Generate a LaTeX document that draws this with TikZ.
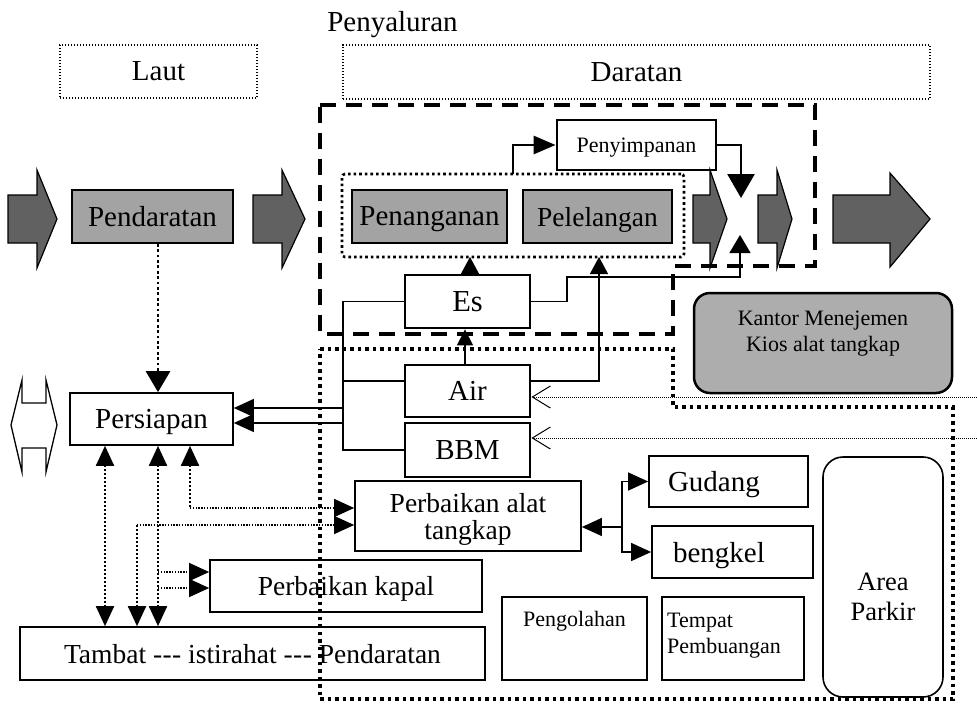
\documentclass[tikz,border=0pt]{standalone}
\usepackage{fontspec}
\setmainfont{Liberation Serif}
\usetikzlibrary{arrows.meta}
\newcommand\fbig{\fontsize{29}{27}\selectfont}
\newcommand\fmid{\fontsize{27.5}{27}\selectfont}
\newcommand\fsml{\fontsize{22}{26}\selectfont}
\newcommand\blkarrow[5]{%
  \draw[blk] (#1,195) -- (#2,195) -- (#2,#4) -- (#3,219) -- (#2,#5) -- (#2,243) -- (#1,243) -- cycle;}
\begin{document}
\begin{tikzpicture}[x=1pt,y=-1pt,
  >={Triangle[length=20pt,width=18pt]},
  bx/.style={draw,line width=1.7pt,inner sep=0pt,align=center,font=\fbig,text depth=0pt},
  heavy/.style={line width=2.8pt},
  gry/.style={fill=black!36},
  dotbox/.style={draw,line width=1.3pt,dash pattern=on 1.3pt off 1.7pt,inner sep=0pt,font=\fbig,text depth=0pt},
  blk/.style={draw,line width=1.2pt,fill=black!62,line join=miter},
  conn/.style={line width=1.3pt},
  dthick/.style={line width=2.8pt,dash pattern=on 2.8pt off 2.6pt},
  dmed/.style={line width=2pt,dash pattern=on 2pt off 2pt},
  dthin/.style={line width=1.3pt,dash pattern=on 1.3pt off 1.5pt},
  plain/.style={inner sep=0pt,align=center}
]
\useasboundingbox (0,0) rectangle (977,706);

% titles
\node[plain,font=\fbig] (peny) at (392.5,25) {Penyaluran};
\node[dotbox,minimum width=197pt,minimum height=53pt] (laut) at (158.5,71.5) {Laut};
\node[dotbox,minimum width=587pt,minimum height=54pt] (darat) at (636.5,72) {Daratan};

% zone outlines
\draw[line width=3.5pt,dash pattern=on 16pt off 10pt]
  (320,105) -- (815,105) -- (815,266) -- (673,266) -- (673,334) -- (320,334) -- cycle;
\draw[line width=3.5pt,dash pattern=on 3.5pt off 4pt]
  (320,349) -- (673,349) -- (673,407) -- (953,407) -- (953,699) -- (320,699) -- cycle;

% group around Penanganan / Pelelangan
\node[draw,line width=2.6pt,dash pattern=on 2.6pt off 3pt,rounded corners=3pt,
  minimum width=342pt,minimum height=83pt,inner sep=0pt] (grp) at (513,215.5) {};

% block arrows
\blkarrow{8}{37}{57}{170}{268}
\blkarrow{253}{282}{305}{170}{268}
\blkarrow{693}{710}{727}{170}{268}
\blkarrow{758}{777}{792}{170}{268}
\blkarrow{833}{890}{930}{173}{267}

% grey boxes
\node[bx,gry,minimum width=161pt,minimum height=53pt] (pend) at (152.5,216.5) {Pendaratan};
\node[bx,gry,minimum width=155pt,minimum height=53pt] (penang) at (429.5,216.5) {Penanganan};
\node[bx,gry,minimum width=149pt,minimum height=53pt,font=\fmid] (pelel) at (597.5,216.5) {Pelelangan};

% storage
\node[bx,heavy,font=\fsml,minimum width=159pt,minimum height=50pt] (penyim) at (636.5,145) {Penyimpanan};

% supply boxes
\node[bx,heavy,font=\fontsize{30.5}{30}\selectfont,minimum width=125pt,minimum height=53pt] (es) at (467.5,301.5) {Es};
\node[bx,heavy,minimum width=125pt,minimum height=52pt] (air) at (467.5,391) {Air};
\node[bx,heavy,minimum width=125pt,minimum height=54pt] (bbm) at (467.5,450) {BBM};

% left side
\node[bx,minimum width=163pt,minimum height=52pt] (pers) at (151.5,419) {Persiapan};
\node[bx,font=\fmid,minimum width=226pt,minimum height=70pt] (pat) at (468,516) {Perbaikan alat\\tangkap};
\node[bx,font=\fmid,minimum width=272pt,minimum height=52pt] (pk) at (346,586) {Perbaikan kapal};
\node[bx,font=\fmid,minimum width=465pt,minimum height=53pt] (tambat) at (252.5,653.5)
  {Tambat -\kern0.4pt-\kern0.4pt- istirahat -\kern0.4pt-\kern0.4pt- Pendaratan};

% left double arrow
\draw[line width=1.3pt,line join=miter] (22,403) -- (22,380) -- (11,425) -- (22,472) -- (22,448)
  -- (46,448) -- (46,472) -- (57,425) -- (46,380) -- (46,403) -- cycle;

% right side boxes
\node[bx,align=left,text width=121pt,inner xsep=19pt,minimum height=51pt] (gudang) at (728.5,481.5) {Gudang};
\node[bx,align=left,text width=119pt,inner xsep=21pt,minimum height=52pt] (bengkel) at (732.5,552) {bengkel};
\node[draw,line width=1.6pt,rounded corners=20pt,minimum width=120pt,minimum height=240pt] (parkir) at (883,577) {};
\node[plain,font=\fontsize{26.5}{30}\selectfont] (parkir-t) at (883,597) {Area\\Parkir};
\node[draw,line width=1.6pt,minimum width=145pt,minimum height=83pt] (pengol) at (574.5,638.5) {};
\node[plain,font=\fsml] (pengol-t) at (574.5,621) {Pengolahan};
\node[draw,line width=1.6pt,minimum width=142pt,minimum height=83pt] (tempat) at (733,638.5) {};
\node[plain,font=\fsml,align=left,anchor=north west] (tempat-t) at (667,613) {Tempat\\Pembuangan};

% chevron connectors from the right
\coordinate (r1) at (977,397);
\coordinate (r2) at (977,438);
\draw[line width=1pt,dash pattern=on 1pt off 1pt,-{Straight Barb[length=18pt,width=22pt,line width=1pt]}]
  (r1) -- (air.east |- r1);
\draw[line width=1pt,dash pattern=on 1pt off 1pt,-{Straight Barb[length=18pt,width=22pt,line width=1pt]}]
  (r2) -- (bbm.east |- r2);

% office
\node[draw,line width=2.5pt,rounded corners=16pt,fill=black!32,minimum width=258pt,minimum height=100pt] (kantor) at (823,343) {};
\node[plain,font=\fsml] (kantor-t) at (823,334) {Kantor Menejemen\\Kios alat tangkap};

% storage connectors
\coordinate (g1) at (513,174);
\draw[heavy,-{Triangle[length=22pt,width=18pt]}] (g1) |- (penyim.west);
\coordinate (xtop) at (741,198);
\draw[heavy,-{Triangle[length=24pt,width=27pt]}] (penyim.east) -| (xtop);
\coordinate (xbot) at (740,235);
\coordinate (esup) at (567,277);
\draw[conn,-{Triangle[length=18pt,width=21pt]}] (es.east) -| (esup) -| (xbot);

% Es / Air connectors
\coordinate (gb1) at (470,257);
\draw[conn,-{Triangle[length=17pt,width=18pt]}] (es.north -| gb1) -- (gb1);
\draw[conn,-{Triangle[length=16pt,width=16pt]}] ([xshift=-2.5pt]air.north) -- ([xshift=-2.5pt]es.south);
\coordinate (pl1) at (599,257);
\draw[conn,-{Triangle[length=17pt,width=18pt]}] ([yshift=10pt]air.east) -| (pl1);

% bracket to Persiapan
\coordinate (bkb) at (343,450);
\coordinate (bka) at (343,381);
\draw[conn] (es.west) -| (bkb) -- (bbm.west);
\draw[conn] (air.west |- bka) -- (bka);
\coordinate (bp1) at (343,408);
\coordinate (bp2) at (343,423);
\draw[conn,->] (bp1) -- (bp1 -| pers.east);
\draw[conn,->] (bp2) -- (bp2 -| pers.east);

% Pendaratan -> Persiapan
\coordinate (pp) at (158,0);
\draw[dthick,-{Triangle[length=21pt,width=24pt]}] (pend.south -| pp) -- (pers.north -| pp);

% Persiapan <-> Tambat
\coordinate (v1) at (105,0);
\coordinate (v2) at (158,0);
\draw[dmed,<->] (pers.south -| v1) -- (tambat.north -| v1);
\draw[dmed,<->] (pers.south -| v2) -- (tambat.north -| v2);
\coordinate (t3) at (190,508);
\draw[dmed,<-] (pers.south -| t3) |- (t3);
\draw[dthin,->] (t3) -- (pat.west |- t3);
\coordinate (t4) at (137,525);
\draw[dmed,<-] (tambat.north -| t4) |- (t4);
\draw[dthin,->] (t4) -- (pat.west |- t4);
\coordinate (k1) at (158,572);
\coordinate (k2) at (158,588);
\draw[dthin,->] (k1) -- (pk.west |- k1);
\draw[dthin,->] (k2) -- (pk.west |- k2);

% Perbaikan alat tangkap -> Gudang / bengkel
\coordinate (jn) at (622,527);
\draw[conn,->] (jn) -- (pat.east |- jn);
\draw[conn,->] (jn) |- (gudang.west);
\draw[conn,->] (jn) |- (bengkel.west);
\end{tikzpicture}
\end{document}
